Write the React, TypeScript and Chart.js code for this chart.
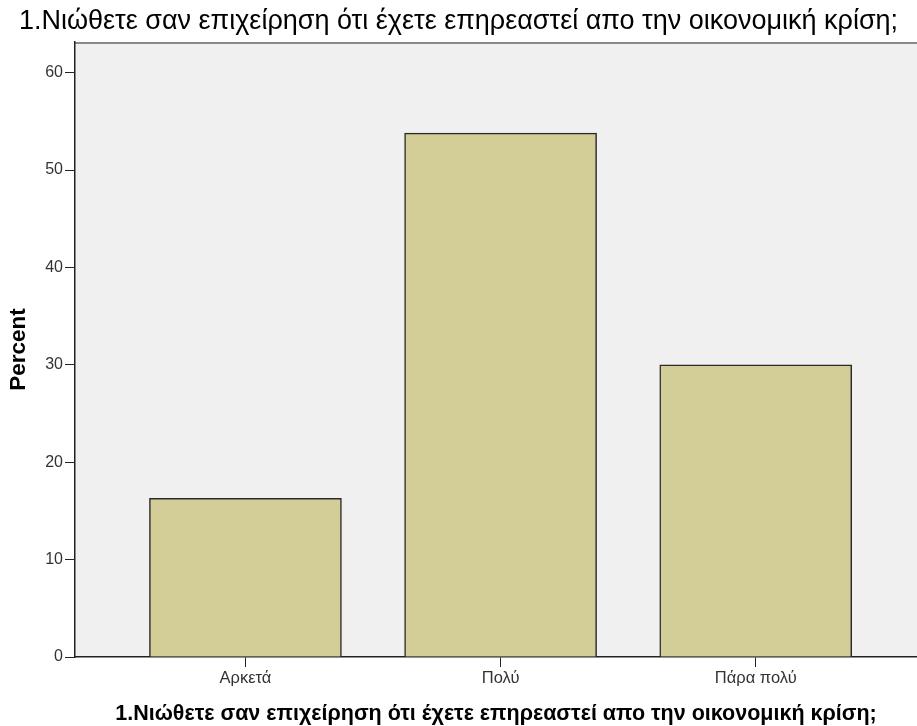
import React, { useEffect, useRef } from "react";
import { Chart, registerables } from "chart.js";

Chart.register(...registerables);

const categories: string[] = ["Αρκετά", "Πολύ", "Πάρα πολύ"];
const percentValues: number[] = [16.3, 53.8, 30.0];
const yTickValues: number[] = [0, 10, 20, 30, 40, 50, 60];
const chartTitle = "1.Νιώθετε σαν επιχείρηση ότι έχετε επηρεαστεί απο την οικονομική κρίση;";
const xAxisTitle = "1.Νιώθετε σαν επιχείρηση ότι έχετε επηρεαστεί απο την οικονομική κρίση;";
const yAxisTitle = "Percent";

const FONT = "'Liberation Sans', Arial, sans-serif";

const plotBackground = {
  id: "plotBackground",
  beforeDraw(chart: any) {
    const { ctx, chartArea } = chart;
    ctx.save();
    ctx.fillStyle = "#F0F0F0";
    ctx.fillRect(chartArea.left, chartArea.top, chartArea.right - chartArea.left, chartArea.bottom - chartArea.top);
    ctx.strokeStyle = "#8a8a8a";
    ctx.lineWidth = 2;
    ctx.beginPath();
    ctx.moveTo(chartArea.left, chartArea.top + 1);
    ctx.lineTo(chartArea.right, chartArea.top + 1);
    ctx.stroke();
    ctx.restore();
  },
};

export default function App() {
  const canvasRef = useRef<HTMLCanvasElement | null>(null);

  useEffect(() => {
    if (!canvasRef.current) return;
    const chart = new Chart(canvasRef.current, {
      type: "bar",
      data: {
        datasets: [
          {
            label: yAxisTitle,
            data: percentValues.map((v, i) => ({ x: i, y: v })),
            backgroundColor: "#D3CE97",
            borderColor: "#2a2a2a",
            borderWidth: 1.5,
            borderSkipped: "start",
            barThickness: 192,
          },
        ],
      },
      plugins: [plotBackground],
      options: {
        animation: false,
        responsive: false,
        devicePixelRatio: 1,
        layout: { padding: 0 },
        plugins: {
          legend: { display: false },
          tooltip: { enabled: false },
          title: {
            display: true,
            text: chartTitle,
            color: "#000",
            font: { family: FONT, size: 27, weight: "normal", lineHeight: 1.2 },
            padding: { top: 5.5, bottom: 4.1 },
          },
        },
        scales: {
          x: {
            type: "linear",
            min: -0.668,
            max: 2.632,
            offset: false,
            afterBuildTicks: (scale: any) => {
              scale.ticks = categories.map((_, i) => ({ value: i }));
            },
            afterFit: (scale: any) => {
              scale.height = 69;
            },
            ticks: {
              callback: (v: any) => categories[Math.round(Number(v))] ?? "",
              color: "#333",
              font: { family: FONT, size: 16.5 },
              padding: 2,
              maxRotation: 0,
              autoSkip: false,
            },
            grid: {
              offset: false,
              drawOnChartArea: false,
              drawTicks: true,
              tickLength: 10,
              color: "#222",
            },
            border: { display: true, color: "#222", width: 1.5 },
            title: {
              display: true,
              text: xAxisTitle,
              color: "#000",
              font: { family: FONT, size: 21.5, weight: "bold", lineHeight: 1.1 },
              padding: { top: 0, bottom: 0 },
            },
          },
          y: {
            type: "linear",
            min: 0,
            max: 63.15,
            afterBuildTicks: (scale: any) => {
              scale.ticks = yTickValues.map((v) => ({ value: v }));
            },
            afterFit: (scale: any) => {
              scale.width = 75;
            },
            ticks: {
              color: "#333",
              font: { family: FONT, size: 16 },
              padding: 2,
            },
            grid: {
              drawOnChartArea: false,
              drawTicks: true,
              tickLength: 10,
              color: "#222",
            },
            border: { display: true, color: "#222", width: 1.5 },
            title: {
              display: true,
              text: yAxisTitle,
              color: "#000",
              font: { family: FONT, size: 22.5, weight: "bold", lineHeight: 1.1 },
              padding: { top: 6.2, bottom: 0 },
            },
          },
        },
      },
    } as any);
    return () => chart.destroy();
  }, []);

  return (
    <div style={{ position: "fixed", left: 0, top: 0, width: 917, height: 726, background: "#fff" }}>
      <canvas ref={canvasRef} width={917} height={726} style={{ width: 917, height: 726 }} />
    </div>
  );
}
